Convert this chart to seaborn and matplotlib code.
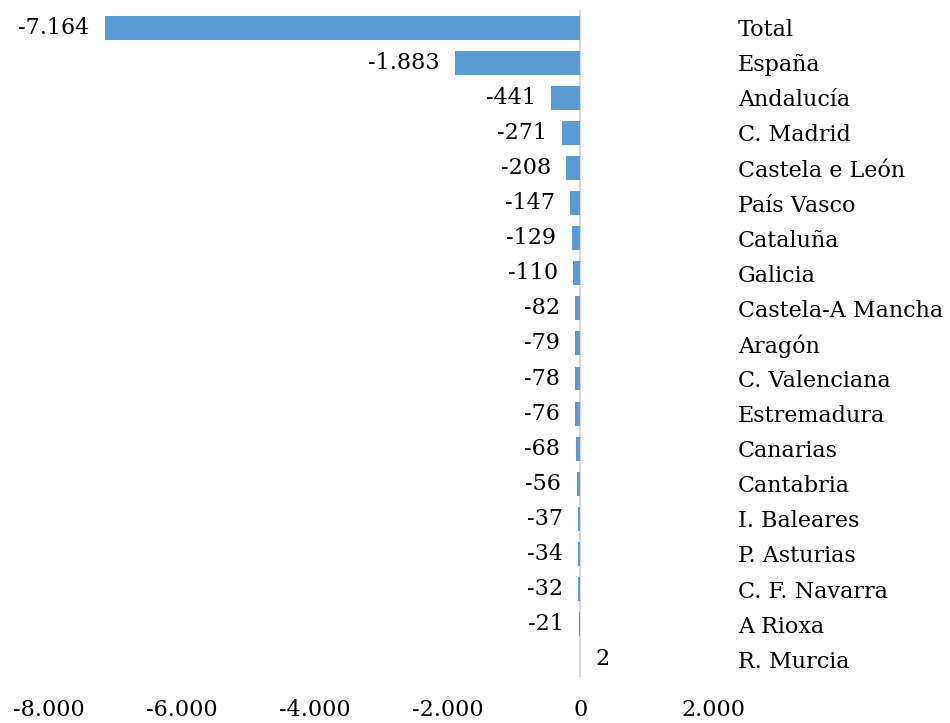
import matplotlib
matplotlib.use('Agg')
import matplotlib.pyplot as plt
import seaborn as sns
import pandas as pd

# datos
rexions = ['Total', 'España', 'Andalucía', 'C. Madrid', 'Castela e León', 'País Vasco',
           'Cataluña', 'Galicia', 'Castela-A Mancha', 'Aragón', 'C. Valenciana',
           'Estremadura', 'Canarias', 'Cantabria', 'I. Baleares', 'P. Asturias',
           'C. F. Navarra', 'A Rioxa', 'R. Murcia']
valores = [-7164, -1883, -441, -271, -208, -147, -129, -110, -82, -79, -78,
           -76, -68, -56, -37, -34, -32, -21, 2]
ticks_x = [-8000, -6000, -4000, -2000, 0, 2000]

df = pd.DataFrame({'rexion': rexions, 'valor': valores})

sns.set_style('white')
plt.rcParams['font.family'] = ['DejaVu Serif']
plt.rcParams['text.color'] = 'black'
plt.rcParams['xtick.color'] = 'black'
plt.rcParams['ytick.color'] = 'black'


def fmt(v):
    return f'{v:,}'.replace(',', '.')


fig = plt.figure(figsize=(9.5, 7.23), dpi=100)
ax = fig.add_axes([0.0516, 0.064, 0.699, 0.922])

sns.barplot(data=df, x='valor', y='rexion', orient='h', color='#5B9BD5',
            saturation=1, width=0.68, linewidth=0, edgecolor='none', ax=ax)

ax.axvline(0, color='#D9D9D9', lw=1.5, zorder=0)

for i, v in enumerate(valores):
    off = -11 if v < 0 else 11
    ax.annotate(fmt(v), (v, i), xytext=(off, 0), textcoords='offset points',
                ha='right' if v < 0 else 'left', va='center', fontsize=16,
                color='black')

ax.set_xlim(-8000, 2000)
ax.set_ylim(len(rexions) - 0.5, -0.5)
ax.set_xticks(ticks_x)
ax.set_xticklabels([fmt(t) for t in ticks_x])
ax.yaxis.tick_right()
ax.tick_params(axis='y', length=0, pad=18, labelsize=16, labelcolor='black')
ax.tick_params(axis='x', length=0, pad=16, labelsize=16, labelcolor='black')
for lab in ax.get_yticklabels():
    lab.set_horizontalalignment('left')
ax.set_xlabel('')
ax.set_ylabel('')
sns.despine(ax=ax, left=True, bottom=True)

fig.savefig('out.png', dpi=100)
